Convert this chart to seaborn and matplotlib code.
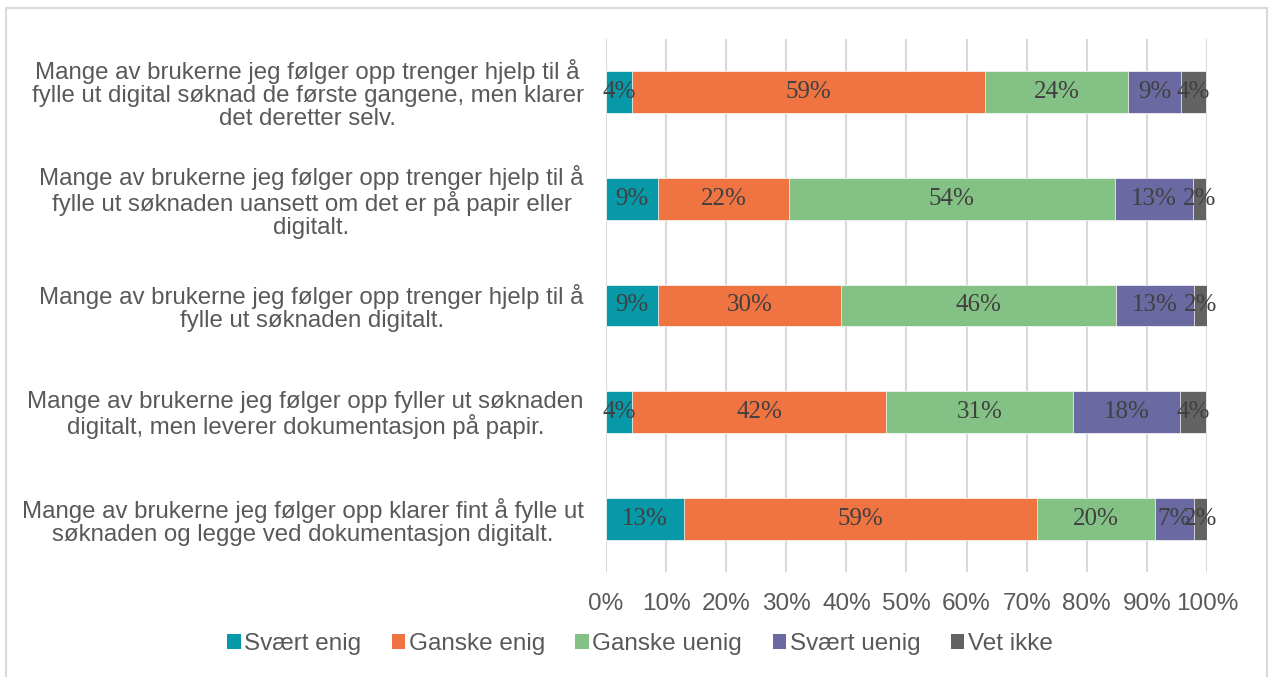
import numpy as np
import pandas as pd
import matplotlib.pyplot as plt
import seaborn as sns
from matplotlib.patches import Patch, Rectangle

# data: share of answers per statement (percent)
statements = [
    "Mange av brukerne jeg følger opp trenger hjelp til å\nfylle ut digital søknad de første gangene, men klarer\ndet deretter selv.",
    "Mange av brukerne jeg følger opp trenger hjelp til å\nfylle ut søknaden uansett om det er på papir eller\ndigitalt.",
    "Mange av brukerne jeg følger opp trenger hjelp til å\nfylle ut søknaden digitalt.",
    "Mange av brukerne jeg følger opp fyller ut søknaden\ndigitalt, men leverer dokumentasjon på papir.",
    "Mange av brukerne jeg følger opp klarer fint å fylle ut\nsøknaden og legge ved dokumentasjon digitalt.",
]
categories = ["Svært enig", "Ganske enig", "Ganske uenig", "Svært uenig", "Vet ikke"]
svaert_enig = [4.3, 8.7, 8.7, 4.4, 13.0]
ganske_enig = [58.7, 21.7, 30.4, 42.2, 58.7]
ganske_uenig = [23.9, 54.3, 45.7, 31.1, 19.6]
svaert_uenig = [8.7, 13.0, 13.0, 17.8, 6.5]
vet_ikke = [4.3, 2.2, 2.2, 4.4, 2.2]
x_ticks = [0, 10, 20, 30, 40, 50, 60, 70, 80, 90, 100]

colors = ["#0899A8", "#F07342", "#83C184", "#6A69A1", "#636363"]

df = pd.DataFrame({"statement": statements, "Svært enig": svaert_enig, "Ganske enig": ganske_enig,
                   "Ganske uenig": ganske_uenig, "Svært uenig": svaert_uenig, "Vet ikke": vet_ikke})
cum = df[categories].cumsum(axis=1)

sns.set_style("white")
plt.rcParams['font.family'] = ['Liberation Sans', 'DejaVu Sans']

fig = plt.figure(figsize=(12.72, 6.77), dpi=100)
ax = fig.add_axes([0.4764, 0.1544, 0.4725, 0.7887])

# stacked bars: draw cumulative totals from the right-most segment backwards
for cat, col in reversed(list(zip(categories, colors))):
    sns.barplot(x=cum[cat], y=df["statement"], orient="h", color=col, width=0.39,
                saturation=1, edgecolor="white", linewidth=0.5, ax=ax, zorder=3)

# data labels in the middle of each segment
for i in range(len(df)):
    for cat in categories:
        v = df.loc[i, cat]
        c = cum.loc[i, cat] - v / 2
        ax.text(c, i, f"{int(np.floor(v + 0.5))}%", ha="center", va="center",
                fontsize=18, color="#404040", family="Liberation Serif", zorder=5)

ax.set_xlim(0, 100)
ax.set_xticks(x_ticks)
ax.set_xticklabels([f"{t}%" for t in x_ticks])
ax.xaxis.grid(True, color="#D9D9D9", linewidth=1.5, zorder=0)
ax.set_axisbelow(True)
ax.set_xlabel("")
ax.set_ylabel("")
for s in ax.spines.values():
    s.set_visible(False)
ax.tick_params(axis="x", length=0, labelsize=17.5, labelcolor="#595959", pad=15)
ax.tick_params(axis="y", length=0, labelsize=17.3, labelcolor="#595959", pad=16)
for lbl in ax.get_yticklabels():
    lbl.set_multialignment("center")
    lbl.set_linespacing(1.05)

handles = [Patch(facecolor=c, edgecolor="none") for c in colors]
fig.legend(handles, categories, loc="center", bbox_to_anchor=(0.503, 0.049), ncol=5,
           frameon=False, fontsize=17.5, labelcolor="#595959", handlelength=0.55, handleheight=0.55,
           handletextpad=0.15, columnspacing=1.25)

# light chart frame
fig.patches.append(Rectangle((6 / 1272, -0.05), 1261 / 1272, 1.05 - 8 / 677, transform=fig.transFigure,
                             fill=False, edgecolor="#D9D9D9", linewidth=1.5))

fig.savefig("out.png", dpi=100)
